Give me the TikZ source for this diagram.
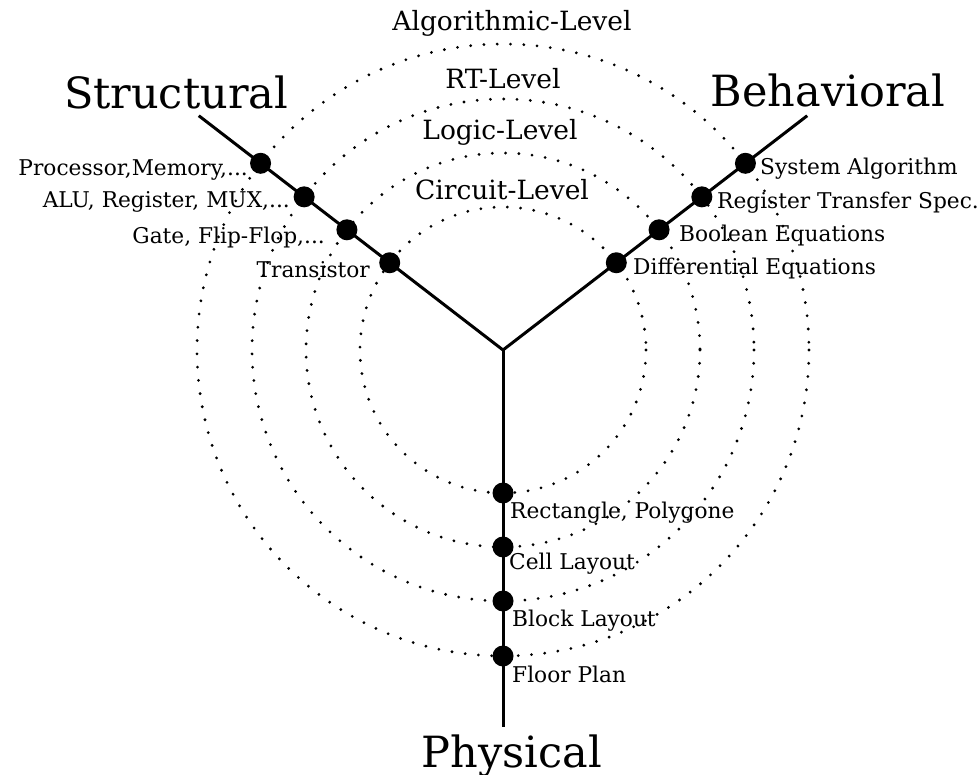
\documentclass[tikz,border=0pt]{standalone}
\usepackage{fontspec}
\setmainfont{DejaVu Serif}
\begin{document}
\begin{tikzpicture}[x=1pt,y=-1pt,
  axis/.style={line width=3pt},
  ring/.style={line width=3.1pt,line cap=round,dash pattern=on 0pt off 13.3pt},
  bul/.style={circle,fill=black,inner sep=0pt,minimum size=21pt},
  big/.style={inner sep=0pt,font=\fontsize{43}{48}\selectfont},
  lvl/.style={inner sep=0pt,font=\fontsize{26.5}{30}\selectfont},
  lab/.style={inner sep=0pt,font=\fontsize{21.7}{25}\selectfont}]
\useasboundingbox (0,0) rectangle (979,775);
\coordinate (c) at (503,350);

% abstraction levels
\foreach \r in {143,197,251,306}
  \draw[ring] (c) circle[radius=\r];

% the three domain axes
\coordinate (sEnd) at ([shift={(c)}]-142.4:384);
\coordinate (bEnd) at ([shift={(c)}]-37.6:384);
\coordinate (pEnd) at (503,727);
\draw[axis] (c) -- (sEnd);
\draw[axis] (c) -- (bEnd);
\draw[axis] (c) -- (pEnd);

% intersection points
\foreach \r/\i in {143/1,197/2,251/3,306/4}{
  \node[bul] (s\i) at ([shift={(c)}]-142.4:\r) {};
  \node[bul] (b\i) at ([shift={(c)}]-37.6:\r) {};
  \node[bul] (p\i) at ([shift={(c)}]90:\r) {};
}

% domain names
\node[big,anchor=base] (tS) at (176,109) {Structural};
\node[big,anchor=base] (tB) at (828,107) {Behavioral};
\node[big,anchor=base] (tP) at (512,767) {Physical};

% level names
\node[lvl,anchor=base] (l4) at (512,31) {Algorithmic-Level};
\node[lvl,anchor=base] (l3) at (503,89) {RT-Level};
\node[lvl,anchor=base] (l2) at (500,140) {Logic-Level};
\node[lvl,anchor=base] (l1) at (502,200) {Circuit-Level};

% structural domain
\node[lab,anchor=base east] at (248,176) {Processor,Memory,...};
\node[lab,anchor=base east] at (290,208) {ALU, Register, MUX,...};
\node[lab,anchor=base east] at (325,244) {Gate, Flip-Flop,...};
\node[lab,anchor=base east] at (370,278) {Transistor};

% behavioral domain
\node[lab,anchor=base west] at (760,175) {System Algorithm};
\node[lab,anchor=base west] at (717,209) {Register Transfer Spec.};
\node[lab,anchor=base west] at (679,242) {Boolean Equations};
\node[lab,anchor=base west] at (633,275) {Differential Equations};

% physical domain
\node[lab,anchor=base west] at (510,518) {Rectangle, Polygone};
\node[lab,anchor=base west] at (509,569) {Cell Layout};
\node[lab,anchor=base west] at (512,626) {Block Layout};
\node[lab,anchor=base west] at (512,682) {Floor Plan};
\end{tikzpicture}
\end{document}
